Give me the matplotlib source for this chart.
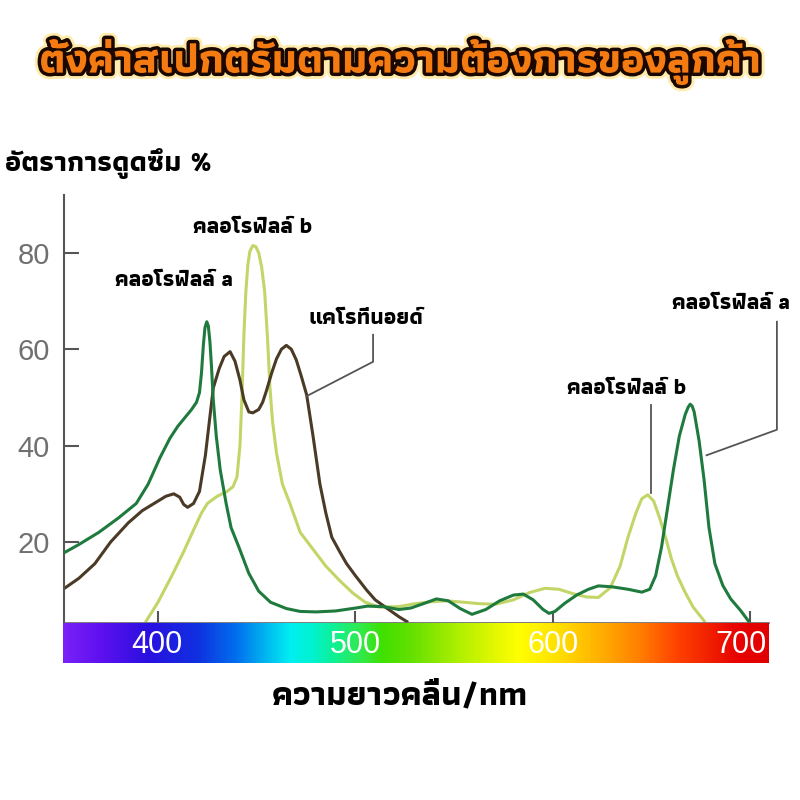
import numpy as np
import matplotlib
matplotlib.use('Agg')
import matplotlib.pyplot as plt
import matplotlib.patheffects as pe
from matplotlib.colors import LinearSegmentedColormap

# absorption curves (wavelength nm, absorption %)
chl_a_x = [353, 360, 370, 380, 389, 395, 401, 406, 410, 414, 417, 419.5, 421, 422, 423, 423.8,
           424.7, 425.5, 426.3, 427, 428, 429.5, 431.5, 434.5, 437, 441, 446, 451, 457, 465, 472, 480,
           490, 500, 506, 514, 522, 528, 535, 541, 547, 553, 559, 566, 573, 580, 585, 590,
           595, 598, 601, 606, 612, 618, 623, 630, 638, 645, 649, 652, 655, 658, 661, 664,
           667, 668.5, 669.5, 670.5, 671.5, 674, 676.5, 679, 682, 686, 690, 695, 699]
chl_a_y = [17.9, 19.5, 22, 25, 28, 32, 37.5, 41.5, 44, 46, 47.5, 49, 51, 55, 61, 64.5,
           65.7, 64.8, 61.5, 57, 49.5, 42, 35, 28, 23, 18.9, 13.5, 9.8, 7.5, 6.2, 5.6, 5.5,
           5.7, 6.3, 6.7, 6.6, 6.0, 6.3, 7.3, 8.2, 7.8, 6.2, 5.0, 6.0, 7.8, 9.0, 9.2, 8.0,
           6.0, 5.2, 5.6, 7.3, 9.0, 10.2, 10.9, 10.7, 10.2, 9.6, 10.2, 13, 19, 27, 35, 42,
           46.5, 48, 48.6, 48.2, 47, 41, 33, 23, 15.5, 11, 8.2, 5.8, 3.6]

chl_b_x = [394, 400, 407.5, 413, 418, 422, 425, 430, 435, 438, 440, 441.5, 442.5, 443.5,
           444.5, 445.5, 446.5, 448, 449.5, 451, 452.5, 454, 455.5, 456.7, 458, 460, 463, 466.8,
           472, 478.5, 485, 492, 498.7, 505, 512, 522, 530, 538, 546, 555, 563, 571, 580, 588,
           596, 603, 610, 617, 623, 629, 634, 638, 642, 645, 648, 651, 654, 657, 660, 663, 667,
           671, 676.6]
chl_b_y = [3.6, 7.5, 13.4, 18, 22.5, 26, 28, 29.5, 30.5, 31.5, 33.5, 40, 50, 63,
           72, 77.5, 80.3, 81.5, 81.3, 80, 77, 72, 62, 52, 45, 38.5, 32, 28,
           22, 18.5, 15, 12, 9.4, 7.5, 6.5, 6.6, 7.2, 7.6, 7.8, 7.5, 7.2, 7.1, 8.0, 9.5,
           10.4, 10.2, 9.3, 8.6, 8.5, 10.5, 15, 21, 26, 29, 29.8, 28.5, 25, 21, 16.5, 13, 9.5,
           6.5, 3.6]

car_x = [353, 360, 368, 376, 385, 392, 398, 404, 408, 411, 413, 415, 418, 421, 424, 426,
         428, 431, 433.5, 436.5, 439, 441.5, 443.5, 446, 448, 451, 453, 455, 457.5, 460,
         462.5, 465, 467.5, 470, 472.5, 475.3, 478.5, 482, 485, 488, 492, 495.5, 500,
         505.7, 510, 515.8, 522, 526]
car_y = [10.5, 12.5, 15.5, 20, 24, 26.5, 28, 29.5, 30, 29.3, 27.8, 27.2, 28, 30.5, 38, 45,
         52, 56, 58.5, 59.5, 57.5, 53.6, 49.5, 47, 46.8, 47.5, 49, 51.5, 55, 58,
         60, 60.8, 60, 57.8, 54.5, 50.5, 42, 32, 26, 21, 18, 15.5, 13,
         10, 8, 6.3, 4.5, 3.5]

y_ticks = [20, 40, 60, 80]
x_ticks = [400, 500, 600, 700]
x_tick_labels = ['400', '500', '600', '700']

# spectrum bar colours
spec_nm = [352, 370, 395, 420, 440, 455, 467, 478, 490, 502, 514, 530, 553, 573, 583,
           603, 624, 644, 664, 680, 695, 710]
spec_col = ['#7a22f8', '#6010f0', '#2a10e0', '#1030e0', '#0070ee', '#00b8f0', '#00eef2',
            '#00f2d0', '#10f090', '#30ea50', '#40e000', '#68e000', '#b0f000', '#e8f800',
            '#ffff00', '#ffe000', '#ffb000', '#ff8000', '#ff4000', '#f02000', '#e80000',
            '#e00000']

thai = ['Athiti', 'DejaVu Sans']
num_font = 'Liberation Sans'

fig = plt.figure(figsize=(8, 8), dpi=100)
fig.patch.set_facecolor('white')

ax = fig.add_axes([0.08, 0.22125, 0.88125, 0.535])
ax.plot(chl_a_x, chl_a_y, color='#1f7a3e', lw=2.2, solid_joinstyle='round', zorder=3)
ax.plot(chl_b_x, chl_b_y, color='#c2d668', lw=2.2, solid_joinstyle='round', zorder=2)
ax.plot(car_x, car_y, color='#4a3a26', lw=2.2, solid_joinstyle='round', zorder=2)

ax.set_xlim(352.4, 709.4)
ax.set_ylim(3.2, 92)
for s in ['top', 'right']:
    ax.spines[s].set_visible(False)
ax.spines['left'].set_color('#555555')
ax.spines['left'].set_linewidth(1.5)
ax.spines['bottom'].set_color('#666666')
ax.spines['bottom'].set_linewidth(1.2)
ax.set_yticks(y_ticks)
ax.set_yticklabels([str(v) for v in y_ticks], fontsize=21, color='#707070', family=num_font)
ax.tick_params(axis='y', direction='in', length=11, width=1.5, color='#555555', pad=10)
ax.set_xticks(x_ticks)
ax.set_xticklabels([])
ax.tick_params(axis='x', direction='in', length=9, width=1.5, color='#555555')

# labels and leader lines
lab_kw = dict(fontsize=16, weight='bold', family=thai, ha='center', va='center', color='black')
ax.text(448.1, 85.2, 'คลอโรฟิลล์ b', **lab_kw)
ax.text(408.1, 74.2, 'คลอโรฟิลล์ a', **lab_kw)
ax.text(505.1, 66.4, 'แคโรทีนอยด์', **lab_kw)
ax.text(690.1, 69.4, 'คลอโรฟิลล์ a', clip_on=False, **lab_kw)
ax.text(637.5, 51.9, 'คลอโรฟิลล์ b', **lab_kw)

line_kw = dict(color='#555555', lw=1.3, clip_on=False)
ax.plot([508.9, 508.9, 475.4], [63, 57.4, 50.3], **line_kw)
ax.plot([713.4, 713.4, 677.8], [65.7, 43.3, 38], **line_kw)
ax.plot([649.6, 649.6], [48.4, 30.2], **line_kw)

# spectrum bar
sax = fig.add_axes([0.079, 0.17125, 0.8825, 0.05])
pos = [(v - spec_nm[0]) / (spec_nm[-1] - spec_nm[0]) for v in spec_nm]
cmap = LinearSegmentedColormap.from_list('spec', list(zip(pos, spec_col)))
grad = np.linspace(0, 1, 512).reshape(1, -1)
sax.imshow(grad, aspect='auto', cmap=cmap, extent=[352, 710, 0, 1])
sax.set_xlim(352.4, 709.4)
sax.set_ylim(0, 1)
sax.axis('off')
lab_x = [400, 500, 600, 695]
for xv, t in zip(lab_x, x_tick_labels):
    sax.text(xv, 0.45, t, color='white', fontsize=22, family=num_font, ha='center', va='center')

# title and axis titles
fig.text(0.5, 0.923, 'ตั้งค่าสเปกตรัมตามความต้องการของลูกค้า', ha='center', va='center',
         fontsize=30, weight='bold', family=thai, color='#f47a12',
         path_effects=[pe.Stroke(linewidth=9, foreground='#ffe58a', alpha=0.7),
                       pe.Stroke(linewidth=5, foreground='#1a0800'), pe.Normal()])
fig.text(0.006, 0.795, 'อัตราการดูดซึม %', ha='left', va='center', fontsize=20.5,
         weight='bold', family=thai, color='black')
fig.text(0.5, 0.13, 'ความยาวคลื่น/nm', ha='center', va='center', fontsize=24.5,
         weight='bold', family=thai, color='black')

fig.savefig('out.png', dpi=100)
